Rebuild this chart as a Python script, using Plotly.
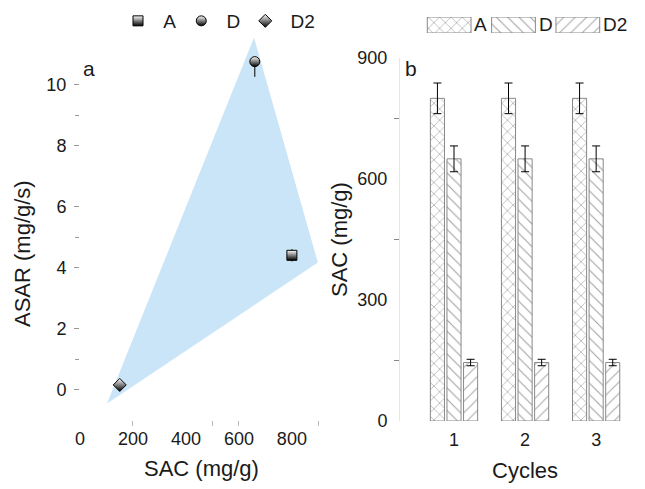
import plotly.graph_objects as go

# page body has an 8px default margin, so the figure is drawn 8px in from the corner
OFF = 8
W, H = 645 - OFF, 489 - OFF

# ---- panel a data ----
series = ["A", "D", "D2"]
sac_a = [800, 660, 150]
asar = [4.4, 10.75, 0.15]
asar_err_plus = [0.2, 0.05, 0.1]
asar_err_minus = [0.2, 0.5, 0.1]
symbols = ["square", "circle", "diamond"]
hull_x = [657, 898, 102, 657]
hull_y = [11.54, 4.16, -0.46, 11.54]

# ---- panel b data ----
cycles = [1, 2, 3]
sac_b = {"A": [800, 800, 800], "D": [650, 650, 650], "D2": [145, 145, 145]}
sac_b_err = {"A": [38, 38, 38], "D": [32, 32, 32], "D2": [8, 8, 8]}
patterns = {"A": "x", "D": "\\", "D2": "/"}
pat_colors = {"A": "#2a2a2a", "D": "#444444", "D2": "#555555"}

def px_x(p):
    return (p - OFF) / W

def px_y(p):
    return 1 - (p - OFF) / H

FONT = "Liberation Sans, Arial, sans-serif"
TXT = "#1a1a1a"
NB = "\u00a0"

fig = go.Figure()

# hull polygon
fig.add_trace(go.Scatter(x=hull_x, y=hull_y, fill="toself", mode="none",
                         fillcolor="#c9e5f7", showlegend=False,
                         xaxis="x", yaxis="y", hoverinfo="skip"))
for i, s in enumerate(series):
    fig.add_trace(go.Scatter(
        x=[sac_a[i]], y=[asar[i]], mode="markers", name=NB + s,
        marker=dict(symbol=symbols[i], size=10, color="white",
                    gradient=dict(type="vertical", color="black"),
                    line=dict(color="black", width=1)),
        error_y=dict(type="data", array=[asar_err_plus[i]], arrayminus=[asar_err_minus[i]],
                     color="black", thickness=1, width=0),
        xaxis="x", yaxis="y", legend="legend"))

# bars
for s in series:
    fig.add_trace(go.Bar(
        x=cycles, y=sac_b[s], name=s, showlegend=False,
        marker=dict(color="white", line=dict(color="#888888", width=1),
                    pattern=dict(shape=patterns[s], fgcolor=pat_colors[s],
                                 bgcolor="white", size=8, solidity=0.14)),
        error_y=dict(type="data", array=sac_b_err[s], color="black",
                     thickness=1, width=4),
        xaxis="x2", yaxis="y2"))

# legend swatches for the bar series (hidden axis)
for i, s in enumerate(series):
    fig.add_trace(go.Bar(
        x=[i + 0.5], y=[1], width=[0.68], showlegend=False, hoverinfo="skip",
        marker=dict(color="white", line=dict(color="#888888", width=1),
                    pattern=dict(shape=patterns[s], fgcolor=pat_colors[s],
                                 bgcolor="white", size=8, solidity=0.14)),
        xaxis="x3", yaxis="y3"))

tickfont = dict(family=FONT, size=18, color=TXT)

fig.update_layout(
    width=W, height=H, margin=dict(l=0, r=0, t=0, b=0, autoexpand=False),
    paper_bgcolor="white", plot_bgcolor="rgba(0,0,0,0)",
    font=dict(family=FONT, size=18, color=TXT),
    barmode="group", bargap=0.3, bargroupgap=0.15,
    xaxis=dict(domain=[px_x(80), px_x(325)], range=[0, 925], anchor="y", automargin=False,
               tickvals=[0, 200, 400, 600, 800], ticks="", showline=False,
               showgrid=False, zeroline=False, tickfont=tickfont, ticklabelstandoff=6,
               minor=dict(tickvals=[200, 500, 600, 900], ticks="outside", ticklen=5,
                          tickcolor="#bbbbbb")),
    yaxis=dict(domain=[px_y(420), px_y(36)], range=[-1, 11.59], anchor="x", automargin=False,
               tickvals=[0, 2, 4, 6, 8, 10], ticks="outside", ticklen=5,
               tickcolor="#999999", showline=False, showgrid=False, zeroline=False,
               tickfont=tickfont, ticklabelstandoff=4,
               minor=dict(tickvals=[1, 5, 9], ticks="outside", ticklen=4, tickcolor="#999999")),
    xaxis2=dict(domain=[px_x(400), px_x(626)], range=[0.24, 3.42], anchor="y2", automargin=False,
                tickvals=[1, 2, 3], ticks="", showline=False, showgrid=False,
                zeroline=False, tickfont=tickfont, ticklabelstandoff=6),
    yaxis2=dict(domain=[px_y(421), px_y(58)], range=[0, 900], anchor="x2", automargin=False,
                tickvals=[0, 300, 600, 900], ticks="", showline=True,
                linecolor="#e6e6e6", linewidth=1, showgrid=False, zeroline=False,
                tickfont=tickfont, ticklabelstandoff=8,
                minor=dict(tickvals=[150, 450, 750], ticks="outside", ticklen=5,
                           tickcolor="#888888")),
    xaxis3=dict(domain=[px_x(417), px_x(610)], range=[0, 3], anchor="y3",
                visible=False, fixedrange=True, automargin=False),
    yaxis3=dict(domain=[px_y(33), px_y(17)], range=[0, 1], anchor="x3",
                visible=False, fixedrange=True, automargin=False),
    legend=dict(orientation="h", x=px_x(118), y=px_y(2), xanchor="left", yanchor="top",
                font=dict(family=FONT, size=19, color=TXT), bgcolor="rgba(0,0,0,0)",
                itemclick=False),
)

ann = [
    dict(text="ASAR (mg/g/s)", x=px_x(22), y=px_y(254), textangle=-90, font=dict(size=22)),
    dict(text="SAC (mg/g)", x=px_x(201), y=px_y(468), font=dict(size=22)),
    dict(text="SAC (mg/g)", x=px_x(339), y=px_y(240), textangle=-90, font=dict(size=22)),
    dict(text="Cycles", x=px_x(525), y=px_y(470), font=dict(size=22)),
    dict(text="a", x=px_x(89), y=px_y(68), font=dict(size=21)),
    dict(text="b", x=px_x(411), y=px_y(68), font=dict(size=21)),
]
for i, s in enumerate(series):
    cx = 417 + (i + 0.5) * (193 / 3)
    ann.append(dict(text=s, x=px_x(cx + 23), y=px_y(25), xanchor="left", font=dict(size=19)))
for a in ann:
    a.update(xref="paper", yref="paper", showarrow=False)
    a.setdefault("xanchor", "center")
    a.setdefault("yanchor", "middle")
    a["font"] = dict(family=FONT, color=TXT, size=a["font"]["size"])
fig.update_layout(annotations=ann)

fig.write_html("out.html")
